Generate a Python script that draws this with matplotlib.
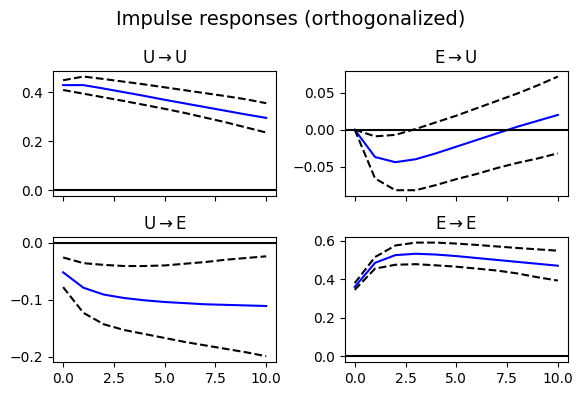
import matplotlib
matplotlib.use("Agg")
import matplotlib.pyplot as plt
import numpy as np

periods = np.arange(11)
names = ["U", "E"]

# responses [response][impulse]
uu_mean = [0.430, 0.430, 0.416, 0.401, 0.386, 0.370, 0.355, 0.340, 0.325, 0.310, 0.296]
uu_upper = [0.450, 0.465, 0.455, 0.444, 0.433, 0.421, 0.409, 0.397, 0.385, 0.372, 0.356]
uu_lower = [0.410, 0.395, 0.380, 0.365, 0.349, 0.333, 0.316, 0.297, 0.278, 0.257, 0.236]

eu_mean = [0.000, -0.037, -0.044, -0.040, -0.032, -0.023, -0.014, -0.005, 0.004, 0.012, 0.020]
eu_upper = [0.000, -0.009, -0.007, 0.001, 0.010, 0.019, 0.029, 0.039, 0.049, 0.060, 0.072]
eu_lower = [0.000, -0.066, -0.082, -0.082, -0.075, -0.067, -0.060, -0.052, -0.045, -0.039, -0.032]

ue_mean = [-0.052, -0.079, -0.091, -0.097, -0.101, -0.104, -0.106, -0.108, -0.109, -0.110, -0.111]
ue_upper = [-0.026, -0.036, -0.039, -0.041, -0.041, -0.040, -0.037, -0.034, -0.030, -0.027, -0.024]
ue_lower = [-0.078, -0.123, -0.143, -0.153, -0.160, -0.167, -0.174, -0.180, -0.186, -0.192, -0.199]

ee_mean = [0.360, 0.485, 0.525, 0.532, 0.528, 0.520, 0.510, 0.500, 0.490, 0.480, 0.470]
ee_upper = [0.380, 0.515, 0.575, 0.590, 0.590, 0.585, 0.578, 0.570, 0.562, 0.555, 0.548]
ee_lower = [0.345, 0.455, 0.475, 0.478, 0.472, 0.465, 0.455, 0.445, 0.430, 0.410, 0.393]

panels = [
    [(uu_mean, uu_upper, uu_lower), (eu_mean, eu_upper, eu_lower)],
    [(ue_mean, ue_upper, ue_lower), (ee_mean, ee_upper, ee_lower)],
]

fig, axes = plt.subplots(2, 2, sharex=True, figsize=(5.82, 3.96), dpi=100)
fig.suptitle("Impulse responses (orthogonalized)", fontsize=14, y=0.975)

for i in range(2):
    for j in range(2):
        ax = axes[i, j]
        mean, upper, lower = panels[i][j]
        ax.plot(periods, mean, color="b")
        ax.plot(periods, upper, "k--")
        ax.plot(periods, lower, "k--")
        ax.axhline(0, color="k")
        ax.set_title(r"%s$\rightarrow$%s" % (names[j], names[i]))

fig.subplots_adjust(left=0.091, right=0.976, top=0.821, bottom=0.086,
                    wspace=0.305, hspace=0.328)
fig.savefig("out.png")
